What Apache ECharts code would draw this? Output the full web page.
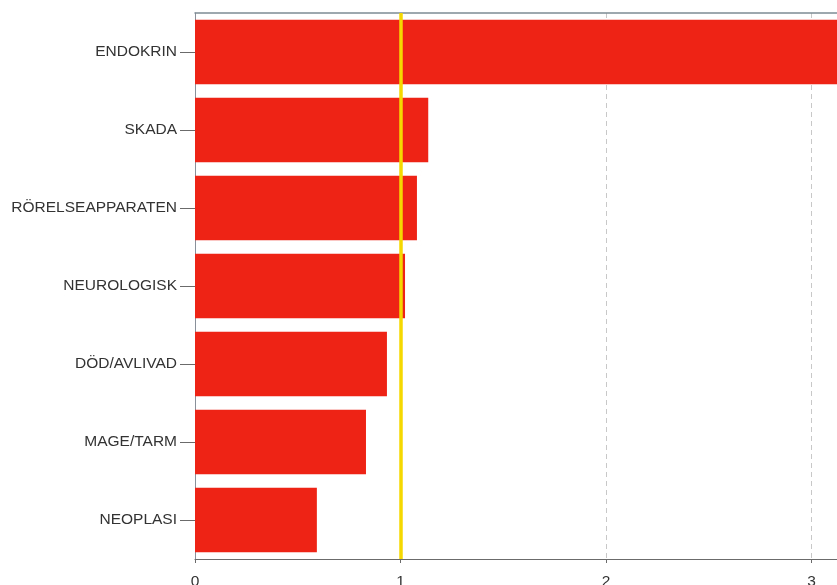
<!DOCTYPE html>
<html><head><meta charset="utf-8">
<script src="https://cdn.jsdelivr.net/npm/echarts@6/dist/echarts.min.js"></script>
<style>html,body{margin:0;padding:0;background:#fff}#c{width:837px;height:585px}</style>
</head><body><div id="c"></div>
<script>
const categories = ['ENDOKRIN','SKADA','RÖRELSEAPPARATEN','NEUROLOGISK','DÖD/AVLIVAD','MAGE/TARM','NEOPLASI'];
const values = [3.30, 1.135, 1.08, 1.022, 0.934, 0.832, 0.593];
const referenceValue = 1;
const xTicks = [0, 1, 2, 3];

const font = 'Liberation Sans, Arial, sans-serif';
const chart = echarts.init(document.getElementById('c'), null, {renderer:'canvas'});
chart.setOption({
  animation: false,
  grid: {left: 195, right: 0, top: 13, bottom: 26, containLabel: false, outerBoundsMode: 'none'},
  xAxis: [{
    type: 'value', min: 0, max: 3.124, interval: 1,
    axisLine: {show: true, lineStyle: {color: '#6b6b6b', width: 1}},
    axisTick: {show: true, length: 4, lineStyle: {color: '#6b6b6b'}},
    axisLabel: {color: '#333', fontSize: 15.5, fontFamily: font, margin: 15, showMaxLabel: false,
      formatter: v => xTicks.includes(v) ? String(v) : ''},
    splitLine: {show: true, lineStyle: {color: '#c8c8c8', type: [5, 4], width: 1}}
  }, {
    type: 'value', position: 'top', min: 0, max: 3.124,
    axisLine: {show: true, lineStyle: {color: '#7d8a94', width: 1.5}},
    axisTick: {show: false}, axisLabel: {show: false}, splitLine: {show: false}
  }],
  yAxis: {
    type: 'category', data: categories, inverse: true, offset: 4,
    axisLine: {show: true, lineStyle: {color: '#8a9099', width: 1}},
    axisTick: {show: true, alignWithLabel: true, length: 15, lineStyle: {color: '#6b6b6b'}},
    axisLabel: {color: '#333', fontSize: 15.5, fontFamily: font, margin: 14}
  },
  series: [{
    type: 'bar', data: values, barCategoryGap: '17%', xAxisIndex: 0,
    itemStyle: {color: '#ee2316'},
    markLine: {
      silent: true, symbol: 'none', label: {show: false},
      lineStyle: {color: '#f4d800', width: 3.5, type: 'solid'},
      data: [{xAxis: referenceValue}]
    }
  }]
});
</script></body></html>
